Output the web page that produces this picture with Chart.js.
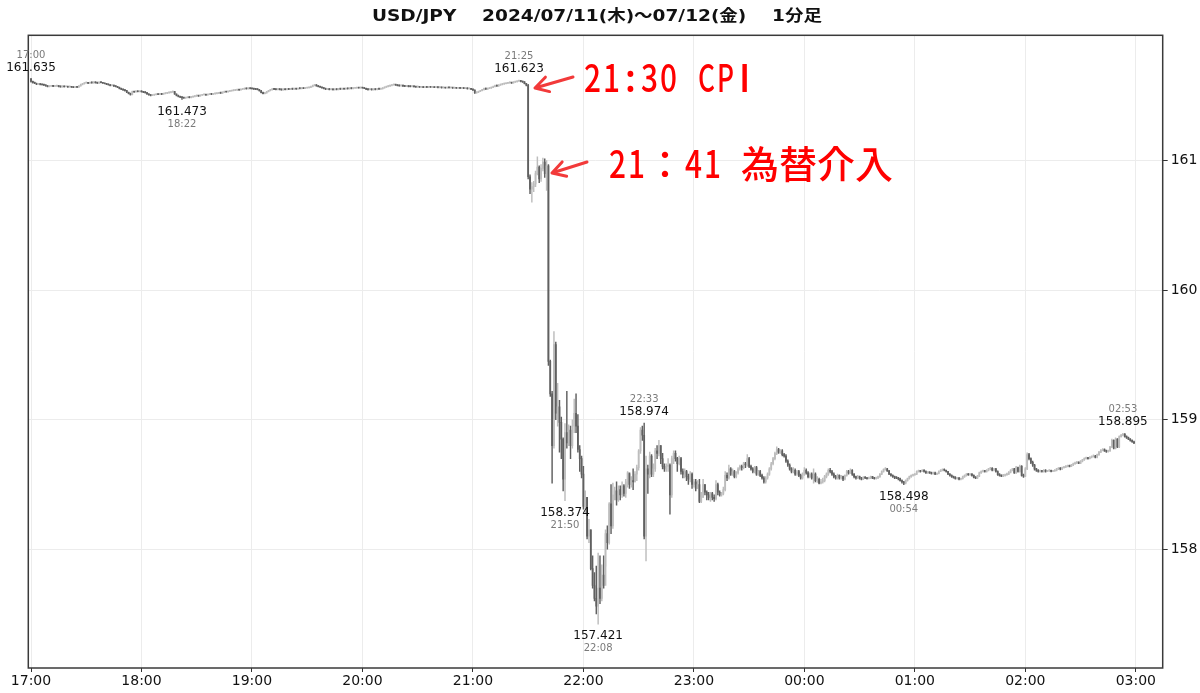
<!DOCTYPE html>
<html lang="ja">
<head>
<meta charset="utf-8">
<title>USD/JPY 1分足</title>
<script src="https://cdn.jsdelivr.net/npm/chart.js@4.4.1/dist/chart.umd.min.js"></script>
<style>
  html, body { margin: 0; padding: 0; background: #fff; }
  #wrap { width: 1200px; height: 693px; }
</style>
</head>
<body>
<div id="wrap"><canvas id="chart" width="1200" height="693"></canvas></div>
<script>
// 1分足 17:00 - 02:59 (index = 17:00からの経過分)
const firstOpen = 161.630;
const closes = [
  161.612, 161.603, 161.598, 161.590, 161.594, 161.588, 161.586, 161.584, 161.578, 161.572,
  161.575, 161.579, 161.574, 161.576, 161.578, 161.573, 161.570, 161.574, 161.571, 161.572,
  161.569, 161.572, 161.568, 161.566, 161.570, 161.567, 161.578, 161.588, 161.594, 161.600,
  161.603, 161.598, 161.604, 161.601, 161.606, 161.602, 161.599, 161.605, 161.603, 161.598,
  161.595, 161.590, 161.586, 161.580, 161.582, 161.576, 161.572, 161.566, 161.557, 161.552,
  161.546, 161.541, 161.528, 161.518, 161.510, 161.534, 161.530, 161.538, 161.533, 161.537,
  161.532, 161.528, 161.526, 161.515, 161.508, 161.503, 161.507, 161.510, 161.514, 161.512,
  161.516, 161.513, 161.518, 161.521, 161.524, 161.526, 161.530, 161.534, 161.515, 161.503,
  161.496, 161.490, 161.487, 161.484, 161.486, 161.489, 161.487, 161.492, 161.496, 161.499,
  161.503, 161.500, 161.506, 161.509, 161.510, 161.507, 161.512, 161.515, 161.513, 161.516,
  161.518, 161.521, 161.524, 161.522, 161.528, 161.534, 161.531, 161.536, 161.539, 161.541,
  161.543, 161.545, 161.548, 161.546, 161.552, 161.554, 161.557, 161.555, 161.559, 161.557,
  161.556, 161.553, 161.551, 161.549, 161.540, 161.526, 161.518, 161.524, 161.533, 161.541,
  161.548, 161.553, 161.551, 161.549, 161.552, 161.550, 161.547, 161.551, 161.549, 161.553,
  161.551, 161.555, 161.553, 161.556, 161.554, 161.558, 161.557, 161.560, 161.558, 161.562,
  161.563, 161.565, 161.572, 161.580, 161.584, 161.578, 161.572, 161.568, 161.562, 161.557,
  161.552, 161.554, 161.549, 161.551, 161.548, 161.552, 161.550, 161.554, 161.553, 161.556,
  161.554, 161.558, 161.556, 161.559, 161.557, 161.560, 161.561, 161.563, 161.562, 161.565,
  161.562, 161.558, 161.552, 161.549, 161.551, 161.548, 161.552, 161.550, 161.554, 161.553,
  161.556, 161.562, 161.568, 161.572, 161.576, 161.581, 161.585, 161.588, 161.584, 161.580,
  161.578, 161.581, 161.576, 161.574, 161.577, 161.573, 161.572, 161.575, 161.571, 161.569,
  161.572, 161.568, 161.570, 161.566, 161.569, 161.567, 161.570, 161.568, 161.568, 161.566,
  161.569, 161.565, 161.567, 161.563, 161.565, 161.562, 161.566, 161.563, 161.564, 161.561,
  161.563, 161.560, 161.561, 161.559, 161.562, 161.558, 161.560, 161.556, 161.557, 161.552,
  161.545, 161.524, 161.528, 161.535, 161.541, 161.548, 161.557, 161.553, 161.558, 161.561,
  161.566, 161.572, 161.580, 161.577, 161.584, 161.588, 161.592, 161.595, 161.598, 161.601,
  161.603, 161.600, 161.607, 161.610, 161.614, 161.619, 161.611, 161.608, 161.595, 161.582,
  160.876, 160.780, 160.800, 160.820, 160.900, 160.950, 160.860, 160.940, 160.990, 160.900,
  160.960, 159.450, 159.200, 158.800, 159.580, 159.050, 159.100, 158.980, 158.850, 158.540,
  158.900, 158.820, 158.920, 158.800, 158.950, 159.050, 158.950, 158.770, 158.700, 158.580,
  158.330, 158.400, 158.100, 158.150, 157.850, 157.720, 157.620, 157.560, 157.700, 157.620,
  157.800, 157.720, 158.120, 158.050, 158.350, 158.180, 158.420, 158.450, 158.380, 158.460,
  158.420, 158.490, 158.430, 158.520, 158.590, 158.500, 158.530, 158.520, 158.580, 158.630,
  158.760, 158.920, 158.880, 158.100, 158.620, 158.580, 158.720, 158.580, 158.620, 158.760,
  158.740, 158.800, 158.700, 158.640, 158.620, 158.640, 158.650, 158.420, 158.700, 158.740,
  158.700, 158.660, 158.700, 158.600, 158.580, 158.600, 158.560, 158.540, 158.580, 158.500,
  158.520, 158.470, 158.500, 158.370, 158.400, 158.500, 158.440, 158.420, 158.400, 158.430,
  158.400, 158.390, 158.500, 158.440, 158.420, 158.430, 158.460, 158.570, 158.550, 158.620,
  158.580, 158.600, 158.560, 158.590, 158.620, 158.640, 158.630, 158.660, 158.650, 158.700,
  158.640, 158.620, 158.600, 158.630, 158.580, 158.600, 158.570, 158.550, 158.520, 158.550,
  158.580, 158.620, 158.660, 158.700, 158.740, 158.770, 158.750, 158.760, 158.730, 158.720,
  158.680, 158.650, 158.620, 158.600, 158.610, 158.580, 158.600, 158.570, 158.550, 158.580,
  158.610, 158.590, 158.560, 158.580, 158.550, 158.580, 158.530, 158.540, 158.510, 158.520,
  158.530, 158.560, 158.580, 158.610, 158.600, 158.580, 158.560, 158.550, 158.570, 158.550,
  158.560, 158.540, 158.570, 158.600, 158.590, 158.610, 158.580, 158.560, 158.550, 158.560,
  158.550, 158.540, 158.555, 158.550, 158.545, 158.550, 158.560, 158.550, 158.545, 158.550,
  158.560, 158.580, 158.600, 158.615, 158.620, 158.605, 158.580, 158.570, 158.560, 158.555,
  158.550, 158.545, 158.530, 158.520, 158.510, 158.530, 158.545, 158.560, 158.570, 158.575,
  158.580, 158.600, 158.605, 158.600, 158.610, 158.600, 158.590, 158.595, 158.590, 158.585,
  158.590, 158.580, 158.585, 158.600, 158.610, 158.615, 158.610, 158.600, 158.580, 158.570,
  158.560, 158.555, 158.545, 158.550, 158.540, 158.545, 158.560, 158.570, 158.580, 158.575,
  158.580, 158.570, 158.555, 158.550, 158.565, 158.590, 158.600, 158.605, 158.600, 158.610,
  158.620, 158.625, 158.610, 158.620, 158.600, 158.575, 158.570, 158.565, 158.570, 158.575,
  158.580, 158.595, 158.610, 158.620, 158.590, 158.630, 158.600, 158.640, 158.570, 158.565,
  158.620, 158.730, 158.700, 158.670, 158.650, 158.620, 158.610, 158.600, 158.605, 158.600,
  158.610, 158.600, 158.605, 158.610, 158.600, 158.605, 158.610, 158.620, 158.625, 158.620,
  158.630, 158.635, 158.640, 158.645, 158.640, 158.650, 158.660, 158.665, 158.670, 158.665,
  158.680, 158.690, 158.700, 158.705, 158.700, 158.710, 158.715, 158.720, 158.710, 158.730,
  158.750, 158.765, 158.770, 158.760, 158.755, 158.760, 158.790, 158.840, 158.780, 158.850,
  158.790, 158.870, 158.880, 158.890, 158.870, 158.860, 158.850, 158.840, 158.830, 158.820
];
const highs = [
  161.635, 161.614, 161.606, 161.600, 161.597, 161.596, 161.591, 161.589, 161.586, 161.580,
  161.578, 161.582, 161.581, 161.579, 161.581, 161.580, 161.575, 161.577, 161.576, 161.575,
  161.574, 161.575, 161.574, 161.570, 161.573, 161.572, 161.580, 161.591, 161.597, 161.603,
  161.606, 161.605, 161.607, 161.606, 161.609, 161.608, 161.604, 161.608, 161.607, 161.605,
  161.600, 161.597, 161.592, 161.588, 161.585, 161.584, 161.578, 161.574, 161.568, 161.560,
  161.555, 161.549, 161.543, 161.530, 161.521, 161.537, 161.536, 161.541, 161.540, 161.540,
  161.540, 161.535, 161.531, 161.528, 161.518, 161.511, 161.510, 161.513, 161.517, 161.516,
  161.519, 161.518, 161.521, 161.524, 161.527, 161.529, 161.533, 161.538, 161.536, 161.517,
  161.506, 161.499, 161.493, 161.490, 161.490, 161.492, 161.492, 161.495, 161.499, 161.502,
  161.506, 161.505, 161.509, 161.512, 161.514, 161.512, 161.515, 161.518, 161.517, 161.519,
  161.521, 161.524, 161.527, 161.526, 161.531, 161.537, 161.536, 161.539, 161.542, 161.544,
  161.546, 161.548, 161.551, 161.550, 161.555, 161.558, 161.560, 161.560, 161.562, 161.561,
  161.560, 161.558, 161.556, 161.554, 161.551, 161.543, 161.529, 161.527, 161.536, 161.544,
  161.551, 161.556, 161.556, 161.554, 161.555, 161.555, 161.552, 161.554, 161.553, 161.556,
  161.556, 161.558, 161.558, 161.559, 161.559, 161.561, 161.561, 161.563, 161.562, 161.565,
  161.566, 161.568, 161.575, 161.583, 161.588, 161.587, 161.580, 161.575, 161.570, 161.565,
  161.560, 161.557, 161.557, 161.554, 161.554, 161.555, 161.555, 161.557, 161.557, 161.559,
  161.559, 161.561, 161.560, 161.562, 161.562, 161.563, 161.564, 161.566, 161.566, 161.568,
  161.567, 161.565, 161.561, 161.555, 161.554, 161.554, 161.555, 161.555, 161.557, 161.557,
  161.559, 161.565, 161.571, 161.575, 161.579, 161.584, 161.588, 161.592, 161.590, 161.586,
  161.583, 161.584, 161.583, 161.579, 161.580, 161.579, 161.576, 161.578, 161.577, 161.574,
  161.575, 161.574, 161.573, 161.572, 161.572, 161.571, 161.573, 161.572, 161.571, 161.570,
  161.572, 161.571, 161.570, 161.569, 161.568, 161.567, 161.569, 161.568, 161.567, 161.566,
  161.566, 161.565, 161.564, 161.563, 161.565, 161.564, 161.563, 161.562, 161.560, 161.559,
  161.554, 161.547, 161.531, 161.538, 161.544, 161.551, 161.560, 161.560, 161.561, 161.564,
  161.569, 161.575, 161.583, 161.583, 161.587, 161.591, 161.595, 161.599, 161.601, 161.604,
  161.606, 161.605, 161.610, 161.613, 161.617, 161.623, 161.620, 161.614, 161.610, 161.598,
  161.590, 160.890, 160.830, 160.840, 160.920, 161.030, 160.960, 160.970, 161.020, 161.015,
  161.000, 160.970, 159.460, 159.220, 159.680, 159.600, 159.280, 159.150, 159.020, 158.860,
  158.970, 159.220, 158.960, 158.950, 159.000, 159.160, 159.200, 159.040, 158.800, 158.720,
  158.640, 158.450, 158.400, 158.230, 158.150, 157.950, 157.820, 157.870, 157.970, 157.950,
  157.880, 157.950, 158.150, 158.180, 158.360, 158.500, 158.510, 158.480, 158.520, 158.490,
  158.490, 158.520, 158.500, 158.540, 158.600, 158.580, 158.560, 158.620, 158.600, 158.650,
  158.770, 158.940, 158.950, 158.974, 158.720, 158.650, 158.750, 158.730, 158.660, 158.780,
  158.800, 158.840, 158.800, 158.740, 158.660, 158.660, 158.700, 158.660, 158.720, 158.760,
  158.760, 158.710, 158.720, 158.710, 158.620, 158.620, 158.610, 158.580, 158.600, 158.590,
  158.540, 158.540, 158.530, 158.540, 158.440, 158.540, 158.500, 158.450, 158.440, 158.440,
  158.440, 158.420, 158.530, 158.510, 158.450, 158.440, 158.480, 158.600, 158.590, 158.650,
  158.630, 158.620, 158.610, 158.600, 158.630, 158.650, 158.650, 158.670, 158.670, 158.730,
  158.710, 158.650, 158.630, 158.640, 158.640, 158.610, 158.610, 158.580, 158.560, 158.560,
  158.590, 158.630, 158.670, 158.710, 158.750, 158.790, 158.780, 158.770, 158.770, 158.740,
  158.730, 158.690, 158.660, 158.630, 158.630, 158.620, 158.610, 158.610, 158.580, 158.590,
  158.630, 158.620, 158.600, 158.590, 158.590, 158.620, 158.590, 158.560, 158.550, 158.540,
  158.550, 158.570, 158.590, 158.620, 158.625, 158.610, 158.590, 158.570, 158.580, 158.575,
  158.570, 158.565, 158.575, 158.610, 158.610, 158.620, 158.615, 158.585, 158.565, 158.570,
  158.565, 158.555, 158.560, 158.560, 158.555, 158.558, 158.565, 158.562, 158.555, 158.558,
  158.565, 158.585, 158.605, 158.620, 158.630, 158.625, 158.610, 158.585, 158.575, 158.565,
  158.560, 158.555, 158.550, 158.535, 158.525, 158.535, 158.550, 158.565, 158.575, 158.580,
  158.585, 158.605, 158.612, 158.610, 158.615, 158.615, 158.605, 158.600, 158.598, 158.595,
  158.595, 158.595, 158.590, 158.605, 158.615, 158.620, 158.620, 158.612, 158.602, 158.585,
  158.575, 158.565, 158.560, 158.555, 158.555, 158.550, 158.565, 158.575, 158.585, 158.585,
  158.585, 158.585, 158.575, 158.560, 158.570, 158.595, 158.605, 158.612, 158.610, 158.615,
  158.625, 158.632, 158.630, 158.625, 158.625, 158.605, 158.585, 158.575, 158.578, 158.580,
  158.588, 158.600, 158.615, 158.625, 158.625, 158.640, 158.635, 158.650, 158.645, 158.580,
  158.630, 158.745, 158.740, 158.705, 158.680, 158.655, 158.625, 158.615, 158.612, 158.610,
  158.615, 158.615, 158.610, 158.615, 158.612, 158.610, 158.615, 158.625, 158.630, 158.630,
  158.635, 158.640, 158.645, 158.650, 158.650, 158.655, 158.665, 158.672, 158.678, 158.675,
  158.685, 158.695, 158.705, 158.712, 158.710, 158.715, 158.722, 158.728, 158.725, 158.735,
  158.755, 158.770, 158.778, 158.775, 158.765, 158.765, 158.795, 158.850, 158.845, 158.860,
  158.855, 158.875, 158.888, 158.895, 158.892, 158.875, 158.865, 158.855, 158.845, 158.835
];
const lows = [
  161.606, 161.598, 161.594, 161.587, 161.588, 161.585, 161.582, 161.580, 161.575, 161.569,
  161.570, 161.573, 161.571, 161.572, 161.574, 161.570, 161.567, 161.568, 161.568, 161.569,
  161.566, 161.567, 161.565, 161.563, 161.564, 161.564, 161.565, 161.576, 161.585, 161.591,
  161.598, 161.595, 161.597, 161.599, 161.599, 161.599, 161.596, 161.597, 161.600, 161.596,
  161.592, 161.587, 161.583, 161.577, 161.578, 161.573, 161.569, 161.563, 161.554, 161.549,
  161.543, 161.537, 161.526, 161.515, 161.506, 161.508, 161.527, 161.528, 161.530, 161.531,
  161.529, 161.525, 161.522, 161.512, 161.505, 161.499, 161.501, 161.504, 161.508, 161.509,
  161.510, 161.510, 161.511, 161.515, 161.518, 161.521, 161.523, 161.527, 161.512, 161.500,
  161.492, 161.486, 161.473, 161.480, 161.481, 161.484, 161.484, 161.485, 161.489, 161.493,
  161.497, 161.497, 161.498, 161.503, 161.506, 161.504, 161.505, 161.509, 161.510, 161.510,
  161.513, 161.515, 161.518, 161.519, 161.520, 161.525, 161.528, 161.529, 161.533, 161.536,
  161.538, 161.540, 161.542, 161.543, 161.544, 161.549, 161.551, 161.552, 161.553, 161.554,
  161.553, 161.550, 161.548, 161.546, 161.537, 161.523, 161.515, 161.516, 161.521, 161.530,
  161.538, 161.545, 161.548, 161.546, 161.546, 161.547, 161.544, 161.544, 161.546, 161.546,
  161.548, 161.548, 161.550, 161.550, 161.551, 161.551, 161.554, 161.554, 161.555, 161.555,
  161.559, 161.560, 161.563, 161.570, 161.577, 161.575, 161.569, 161.565, 161.559, 161.554,
  161.549, 161.549, 161.546, 161.546, 161.545, 161.545, 161.547, 161.547, 161.550, 161.550,
  161.551, 161.551, 161.553, 161.553, 161.554, 161.554, 161.557, 161.558, 161.559, 161.559,
  161.559, 161.555, 161.549, 161.545, 161.546, 161.544, 161.545, 161.547, 161.547, 161.550,
  161.550, 161.553, 161.559, 161.565, 161.569, 161.573, 161.578, 161.582, 161.581, 161.577,
  161.575, 161.575, 161.573, 161.571, 161.571, 161.570, 161.569, 161.569, 161.568, 161.566,
  161.566, 161.565, 161.565, 161.563, 161.563, 161.564, 161.564, 161.565, 161.565, 161.563,
  161.563, 161.562, 161.562, 161.560, 161.560, 161.559, 161.559, 161.560, 161.560, 161.558,
  161.558, 161.557, 161.557, 161.556, 161.556, 161.555, 161.555, 161.553, 161.553, 161.549,
  161.542, 161.519, 161.521, 161.525, 161.532, 161.538, 161.545, 161.550, 161.550, 161.555,
  161.558, 161.563, 161.569, 161.574, 161.574, 161.581, 161.585, 161.589, 161.592, 161.595,
  161.598, 161.597, 161.598, 161.604, 161.607, 161.611, 161.608, 161.605, 161.592, 161.578,
  160.860, 160.745, 160.680, 160.760, 160.800, 160.890, 160.830, 160.840, 160.920, 160.870,
  160.770, 159.420, 159.180, 158.510, 158.780, 159.000, 158.950, 158.750, 158.700, 158.450,
  158.374, 158.780, 158.800, 158.700, 158.780, 158.900, 158.900, 158.750, 158.600, 158.550,
  158.310, 158.280, 158.080, 158.050, 157.840, 157.700, 157.600, 157.500, 157.421, 157.580,
  157.600, 157.700, 157.870, 158.000, 158.040, 158.120, 158.160, 158.380, 158.340, 158.370,
  158.380, 158.400, 158.410, 158.400, 158.480, 158.470, 158.480, 158.460, 158.520, 158.530,
  158.610, 158.740, 158.840, 158.080, 157.910, 158.430, 158.550, 158.560, 158.560, 158.600,
  158.700, 158.720, 158.660, 158.620, 158.600, 158.600, 158.600, 158.270, 158.400, 158.660,
  158.680, 158.600, 158.650, 158.580, 158.550, 158.550, 158.530, 158.500, 158.520, 158.470,
  158.480, 158.450, 158.470, 158.360, 158.360, 158.400, 158.420, 158.380, 158.380, 158.370,
  158.380, 158.370, 158.380, 158.420, 158.410, 158.410, 158.420, 158.450, 158.530, 158.540,
  158.570, 158.570, 158.550, 158.550, 158.580, 158.610, 158.610, 158.620, 158.630, 158.640,
  158.630, 158.610, 158.590, 158.590, 158.570, 158.570, 158.560, 158.540, 158.510, 158.510,
  158.540, 158.570, 158.610, 158.650, 158.690, 158.730, 158.740, 158.740, 158.720, 158.710,
  158.670, 158.640, 158.610, 158.590, 158.590, 158.570, 158.570, 158.560, 158.540, 158.540,
  158.570, 158.580, 158.550, 158.550, 158.540, 158.510, 158.520, 158.515, 158.505, 158.505,
  158.510, 158.520, 158.550, 158.570, 158.590, 158.570, 158.550, 158.540, 158.540, 158.540,
  158.540, 158.530, 158.535, 158.565, 158.580, 158.585, 158.570, 158.550, 158.540, 158.545,
  158.540, 158.535, 158.538, 158.545, 158.540, 158.542, 158.545, 158.545, 158.540, 158.540,
  158.545, 158.555, 158.575, 158.595, 158.610, 158.600, 158.575, 158.565, 158.555, 158.545,
  158.545, 158.535, 158.525, 158.510, 158.498, 158.505, 158.525, 158.540, 158.555, 158.565,
  158.570, 158.575, 158.595, 158.595, 158.598, 158.595, 158.585, 158.585, 158.585, 158.580,
  158.580, 158.575, 158.575, 158.582, 158.598, 158.605, 158.605, 158.595, 158.575, 158.565,
  158.555, 158.548, 158.540, 158.540, 158.535, 158.535, 158.540, 158.555, 158.565, 158.570,
  158.570, 158.565, 158.550, 158.545, 158.545, 158.560, 158.585, 158.595, 158.595, 158.595,
  158.605, 158.612, 158.605, 158.605, 158.595, 158.570, 158.565, 158.560, 158.560, 158.565,
  158.570, 158.575, 158.590, 158.605, 158.585, 158.585, 158.595, 158.595, 158.565, 158.555,
  158.560, 158.615, 158.690, 158.660, 158.640, 158.610, 158.600, 158.595, 158.595, 158.595,
  158.595, 158.595, 158.598, 158.600, 158.596, 158.598, 158.600, 158.605, 158.615, 158.612,
  158.615, 158.625, 158.630, 158.635, 158.635, 158.638, 158.645, 158.655, 158.660, 158.660,
  158.660, 158.675, 158.685, 158.695, 158.695, 158.698, 158.705, 158.710, 158.705, 158.705,
  158.725, 158.745, 158.760, 158.755, 158.748, 158.750, 158.755, 158.785, 158.775, 158.775,
  158.785, 158.785, 158.865, 158.875, 158.865, 158.855, 158.845, 158.835, 158.825, 158.815
];

const tickMinutes = [0, 60, 120, 180, 240, 300, 360, 420, 480, 540, 600];
const tickLabels = ['17:00', '18:00', '19:00', '20:00', '21:00', '22:00', '23:00', '00:00', '01:00', '02:00', '03:00'];
const yTicks = [158, 159, 160, 161];

// 高値・安値の表示位置
const markMinutes = [0, 82, 265, 290, 308, 333, 474, 593];
const markKinds = ['high', 'low', 'high', 'low', 'low', 'high', 'low', 'high'];

const titleText = 'USD/JPY    2024/07/11(木)～07/12(金)    1分足';

const opens = closes.map((c, i) => i === 0 ? firstOpen : closes[i - 1]);
const upColor = '#bdbdbd';
const downColor = '#606060';
const candleColors = closes.map((c, i) => c >= opens[i] ? upColor : downColor);

function minuteLabel(m) {
    const h = (17 + Math.floor(m / 60)) % 24;
    const mm = m % 60;
    return String(h).padStart(2, '0') + ':' + String(mm).padStart(2, '0');
}

// 赤い注釈文字 (等幅っぽく1文字ずつ並べる)
function drawNote(ctx, text, left, baseline) {
    ctx.save();
    ctx.fillStyle = '#ff0000';
    ctx.font = '500 38px "Noto Sans CJK JP"';
    ctx.textBaseline = 'alphabetic';
    ctx.textAlign = 'center';
    let x = left;
    for (const ch of text) {
        const full = ch.charCodeAt(0) > 0xff;
        const cell = full ? 38 : 19;
        if (ch !== ' ') {
            const w = ctx.measureText(ch).width;
            const sx = full ? 1 : Math.min(1, 17 / w);
            ctx.save();
            ctx.translate(x + cell / 2, baseline);
            ctx.scale(sx, 1);
            ctx.fillText(ch, 0, 0);
            ctx.restore();
        }
        x += cell;
    }
    ctx.restore();
}

function drawArrow(ctx, tailX, tailY, tipX, tipY) {
    const a = Math.atan2(tailY - tipY, tailX - tipX);
    const len = 15, spread = Math.PI / 6;
    ctx.save();
    ctx.strokeStyle = '#f23a3a';
    ctx.lineWidth = 3;
    ctx.lineCap = 'round';
    ctx.lineJoin = 'round';
    ctx.beginPath();
    ctx.moveTo(tailX, tailY);
    ctx.lineTo(tipX, tipY);
    ctx.moveTo(tipX + Math.cos(a - spread) * len, tipY + Math.sin(a - spread) * len);
    ctx.lineTo(tipX, tipY);
    ctx.lineTo(tipX + Math.cos(a + spread) * len, tipY + Math.sin(a + spread) * len);
    ctx.stroke();
    ctx.restore();
}

const overlay = {
    id: 'overlay',
    afterDraw(chart) {
        const ctx = chart.ctx;
        const area = chart.chartArea;
        const xs = chart.scales.x;
        const ys = chart.scales.y;

        // 枠
        ctx.save();
        ctx.strokeStyle = '#3a3a3a';
        ctx.lineWidth = 1.5;
        ctx.strokeRect(area.left, area.top, area.right - area.left, area.bottom - area.top);
        ctx.restore();

        // タイトル
        ctx.save();
        ctx.font = 'bold 16px "DejaVu Sans", "Noto Sans CJK JP"';
        ctx.fillStyle = '#111';
        ctx.textBaseline = 'alphabetic';
        const tw = ctx.measureText(titleText).width;
        const k = 450 / tw;
        ctx.translate(597, 21);
        ctx.scale(k, 1);
        ctx.textAlign = 'center';
        ctx.fillText(titleText, 0, 0);
        ctx.restore();

        // 高値・安値ラベル
        ctx.save();
        ctx.textAlign = 'center';
        ctx.textBaseline = 'middle';
        markMinutes.forEach((m, i) => {
            const high = markKinds[i] === 'high';
            const v = high ? highs[m] : lows[m];
            const x = xs.getPixelForValue(m);
            const y = ys.getPixelForValue(v);
            const off1 = high ? -11 : 12;
            const off2 = high ? -23.5 : 24.5;
            ctx.font = '12px "DejaVu Sans"';
            ctx.fillStyle = '#111';
            ctx.fillText(v.toFixed(3), x, y + off1);
            ctx.font = '10px "DejaVu Sans"';
            ctx.fillStyle = '#7a7a7a';
            ctx.fillText(minuteLabel(m), x, y + off2);
        });
        ctx.restore();

        // 注釈
        drawArrow(ctx, 573, 77, 535, 88);
        drawNote(ctx, '21:30 CPI', 583, 92);
        drawArrow(ctx, 587, 162, 552, 173);
        drawNote(ctx, '21：41 為替介入', 608, 178);
    }
};

new Chart(document.getElementById('chart'), {
    type: 'bar',
    data: {
        datasets: [
            {
                label: 'body',
                data: closes.map((c, i) => ({ x: i, y: [opens[i], c] })),
                backgroundColor: candleColors,
                borderWidth: 0,
                barThickness: 1.1,
                minBarLength: 0.9,
                grouped: false,
                order: 0
            },
            {
                label: 'wick',
                data: closes.map((c, i) => ({ x: i, y: [lows[i], highs[i]] })),
                backgroundColor: candleColors,
                borderWidth: 0,
                barThickness: 0.8,
                grouped: false,
                order: 1
            }
        ]
    },
    options: {
        responsive: false,
        animation: false,
        layout: { padding: { left: 28.3, top: 35.3, right: 0, bottom: 0 } },
        scales: {
            x: {
                type: 'linear',
                offset: false,
                min: -1.47,
                max: 614.6,
                afterBuildTicks: s => { s.ticks = tickMinutes.map(v => ({ value: v })); },
                afterFit: s => { s.height = 25; },
                ticks: {
                    autoSkip: false,
                    maxRotation: 0,
                    padding: 1,
                    color: '#111',
                    font: { family: 'DejaVu Sans', size: 14 },
                    callback: v => tickLabels[tickMinutes.indexOf(v)]
                },
                grid: { offset: false, color: '#ececec', tickColor: '#333', tickLength: 4 },
                border: { display: false }
            },
            y: {
                type: 'linear',
                position: 'right',
                min: 157.083,
                max: 161.968,
                afterBuildTicks: s => { s.ticks = yTicks.map(v => ({ value: v })); },
                afterFit: s => { s.width = 37.3; },
                ticks: {
                    padding: 3,
                    color: '#111',
                    font: { family: 'DejaVu Sans', size: 14 },
                    callback: v => String(v)
                },
                grid: { color: '#ececec', tickColor: '#333', tickLength: 5 },
                border: { display: false }
            }
        },
        plugins: {
            legend: { display: false },
            tooltip: { enabled: false },
            title: { display: false }
        }
    },
    plugins: [overlay]
});
</script>
</body>
</html>
